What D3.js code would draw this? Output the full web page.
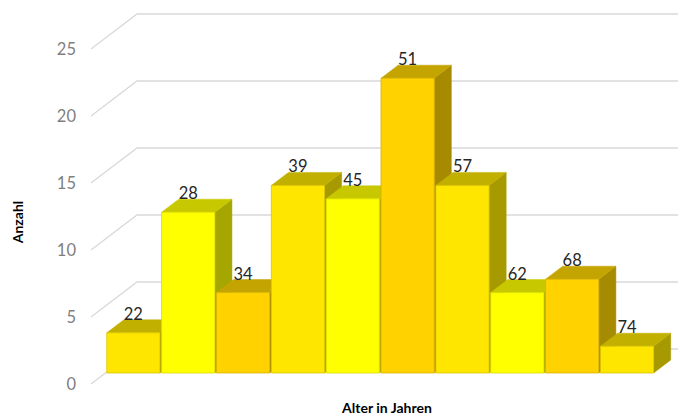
<!DOCTYPE html>
<html>
<head>
<meta charset="utf-8">
<script src="https://cdn.jsdelivr.net/npm/d3@7"></script>
<style>
  html, body { margin: 0; padding: 0; background: #fff; }
  svg { display: block; }
</style>
</head>
<body>
<svg id="chart" width="678" height="417"></svg>
<script>
// Age groups (shown as labels above the columns) and their counts
const ages = ["22", "28", "34", "39", "45", "51", "57", "62", "68", "74"];
const counts = [3, 12, 6, 14, 13, 22, 14, 6, 7, 2];
const yTicks = [0, 5, 10, 15, 20, 25];
const yTitle = "Anzahl";
const xTitle = "Alter in Jahren";

// Front / top / side shades, cycling across the columns
const shades = [
  { front: "#FFE600", top: "#C2B000", side: "#A69A00", edge: "#D9C400" },
  { front: "#FFFF00", top: "#C8C800", side: "#A6A600", edge: "#D9D900" },
  { front: "#FFD200", top: "#C4A400", side: "#A68A00", edge: "#D9B300" }
];

const svg = d3.select("#chart");
const W = 678;
const font = "Lato, 'Open Sans', sans-serif";

// Oblique 3D layout: floor front edge and the depth vector of the plot box
const floorY = 384;
const depthDX = 46, depthDY = -35;
const zFront = 0.314, zBack = 0.686;

const h = d3.scaleLinear().domain([0, 25]).range([0, 335]);
const x = d3.scaleBand().domain(ages).range([91.5, 640]).paddingInner(0.03).paddingOuter(0.015);

// Project a front-plane x, a value and a depth fraction onto the screen
function proj(px, v, z) {
  return [px + z * depthDX, floorY - h(v) + z * depthDY];
}

// Gridlines: diagonal on the side wall, horizontal on the back wall
const grid = svg.append("g").attr("stroke", "#d9d9d9").attr("stroke-width", 1.3).attr("fill", "none");
yTicks.forEach(t => {
  const a = proj(91, t, 0), b = proj(91, t, 1);
  grid.append("path").attr("d", `M${a[0]},${a[1]}L${b[0]},${b[1]}L${W},${b[1]}`);
});

// Value axis labels
svg.append("g").selectAll("text").data(yTicks).join("text")
  .attr("x", 76).attr("y", d => proj(91, d, 0)[1])
  .attr("dy", "0.35em")
  .attr("text-anchor", "end")
  .attr("font-family", font)
  .attr("font-size", 16.5)
  .attr("fill", "#7f7f7f")
  .text(d => d);

// Columns, painted left to right so each front face covers the previous side face
const bars = svg.append("g");
ages.forEach((age, i) => {
  const v = counts[i];
  const c = shades[i % 3];
  const x0 = x(age), x1 = x0 + x.bandwidth();
  const fbl = proj(x0, 0, zFront), fbr = proj(x1, 0, zFront);
  const ftl = proj(x0, v, zFront), ftr = proj(x1, v, zFront);
  const btl = proj(x0, v, zBack), btr = proj(x1, v, zBack), bbr = proj(x1, 0, zBack);
  const g = bars.append("g");
  g.append("path").attr("fill", c.side).attr("stroke", c.side).attr("stroke-width", 0.5)
    .attr("d", `M${fbr}L${ftr}L${btr}L${bbr}Z`);
  g.append("path").attr("fill", c.top).attr("stroke", c.top).attr("stroke-width", 0.5)
    .attr("d", `M${ftl}L${ftr}L${btr}L${btl}Z`);
  g.append("path").attr("fill", c.front).attr("stroke", c.edge).attr("stroke-width", 0.8)
    .attr("d", `M${fbl}L${ftl}L${ftr}L${fbr}Z`);
  g.append("text")
    .attr("x", (ftl[0] + ftr[0]) / 2)
    .attr("y", ftl[1] - 13)
    .attr("text-anchor", "middle")
    .attr("font-family", font)
    .attr("font-size", 16.5)
    .attr("fill", "#262626")
    .text(age);
});

// Axis titles
svg.append("text")
  .attr("transform", "translate(23,222) rotate(-90)")
  .attr("text-anchor", "middle")
  .attr("font-family", font)
  .attr("font-weight", "bold")
  .attr("font-size", 14)
  .attr("fill", "#000")
  .text(yTitle);

svg.append("text")
  .attr("x", 387).attr("y", 413)
  .attr("text-anchor", "middle")
  .attr("font-family", font)
  .attr("font-weight", "bold")
  .attr("font-size", 14)
  .attr("fill", "#000")
  .text(xTitle);
</script>
</body>
</html>
